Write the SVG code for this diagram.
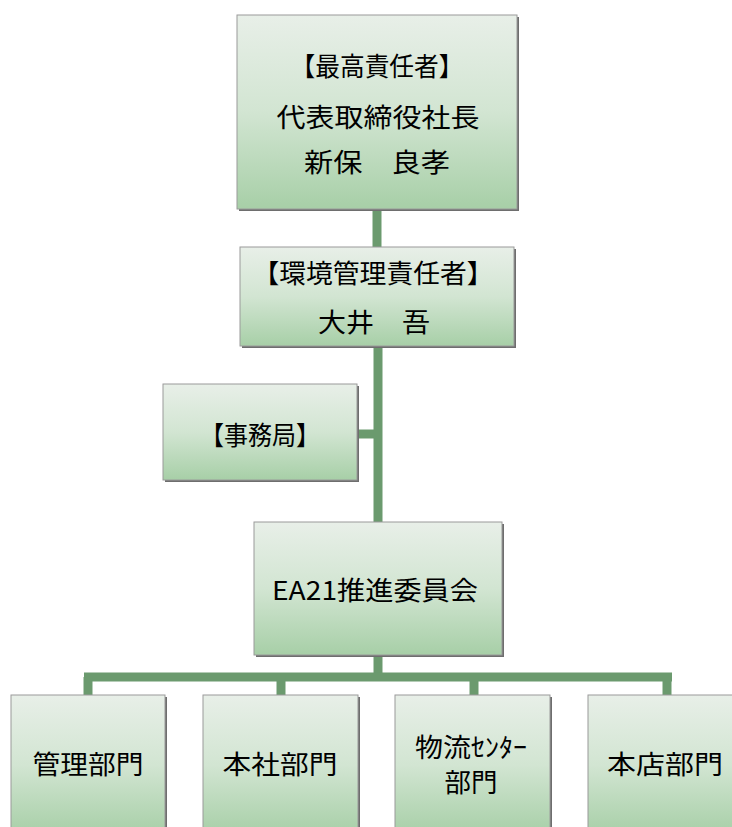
<svg xmlns="http://www.w3.org/2000/svg" width="732" height="827" viewBox="0 0 732 827">
<defs>
<linearGradient id="g" x1="0" y1="0" x2="0" y2="1">
<stop offset="0" stop-color="#e8efe8"/>
<stop offset="0.5" stop-color="#d2e5d2"/>
<stop offset="1" stop-color="#a7cfa7"/>
</linearGradient>
</defs>
<style>
.sh{fill:#6e6e6e}
.bx{fill:url(#g);stroke:#9a9a9a;stroke-width:1}
.t{font-family:"Noto Sans CJK JP","Noto Sans",sans-serif;font-size:26px;fill:#000;text-anchor:middle;dominant-baseline:central}
.c{stroke:#6b9a6e;stroke-width:9;fill:none}
</style>
<rect width="732" height="827" fill="#fff"/>
<g id="connectors">
<path class="c" d="M377,209 V247"/>
<path class="c" d="M378,346 V522"/>
<path class="c" d="M357,434 H378"/>
<path class="c" d="M378,655 V677"/>
<path class="c" d="M84,677 H672"/>
<path class="c" d="M88,677 V695"/>
<path class="c" d="M281,677 V695"/>
<path class="c" d="M474,677 V695"/>
<path class="c" d="M667,677 V695"/>
</g>
<g id="top">
<rect class="sh" x="239" y="17" width="280" height="194"/>
<rect class="bx" x="237" y="15" width="280" height="194"/>
<text class="t" x="377" y="64" textLength="173" lengthAdjust="spacingAndGlyphs">【最高責任者】</text>
<text class="t" x="378" y="115" textLength="203" lengthAdjust="spacingAndGlyphs">代表取締役社長</text>
<text class="t" x="377" y="160" textLength="146" lengthAdjust="spacingAndGlyphs">新保　良孝</text>
</g>
<g id="env">
<rect class="sh" x="242" y="249" width="274" height="99"/>
<rect class="bx" x="240" y="247" width="274" height="99"/>
<text class="t" x="373" y="271" textLength="241" lengthAdjust="spacingAndGlyphs">【環境管理責任者】</text>
<text class="t" x="374" y="320" textLength="112" lengthAdjust="spacingAndGlyphs">大井　吾</text>
</g>
<g id="jimu">
<rect class="sh" x="165" y="386" width="194" height="96"/>
<rect class="bx" x="163" y="384" width="194" height="96"/>
<text class="t" x="260" y="433" textLength="120" lengthAdjust="spacingAndGlyphs">【事務局】</text>
</g>
<g id="ea21">
<rect class="sh" x="256" y="524" width="248" height="133"/>
<rect class="bx" x="254" y="522" width="248" height="133"/>
<text class="t" x="375" y="588" textLength="206" lengthAdjust="spacingAndGlyphs">EA21推進委員会</text>
</g>
<g id="kanri">
<rect class="sh" x="13" y="697" width="154" height="140"/>
<rect class="bx" x="11" y="695" width="154" height="140"/>
<text class="t" x="88" y="762" textLength="111" lengthAdjust="spacingAndGlyphs">管理部門</text>
</g>
<g id="honsha">
<rect class="sh" x="205" y="697" width="155" height="140"/>
<rect class="bx" x="203" y="695" width="155" height="140"/>
<text class="t" x="280" y="762" textLength="115" lengthAdjust="spacingAndGlyphs">本社部門</text>
</g>
<g id="butsuryu">
<rect class="sh" x="397" y="697" width="155" height="140"/>
<rect class="bx" x="395" y="695" width="155" height="140"/>
<text class="t" x="471" y="745" textLength="112" lengthAdjust="spacingAndGlyphs">物流ｾﾝﾀｰ</text>
<text class="t" x="471" y="780" textLength="53" lengthAdjust="spacingAndGlyphs">部門</text>
</g>
<g id="honten">
<rect class="sh" x="590" y="697" width="155" height="140"/>
<rect class="bx" x="588" y="695" width="155" height="140"/>
<text class="t" x="665" y="762" textLength="116" lengthAdjust="spacingAndGlyphs">本店部門</text>
</g>
</svg>
